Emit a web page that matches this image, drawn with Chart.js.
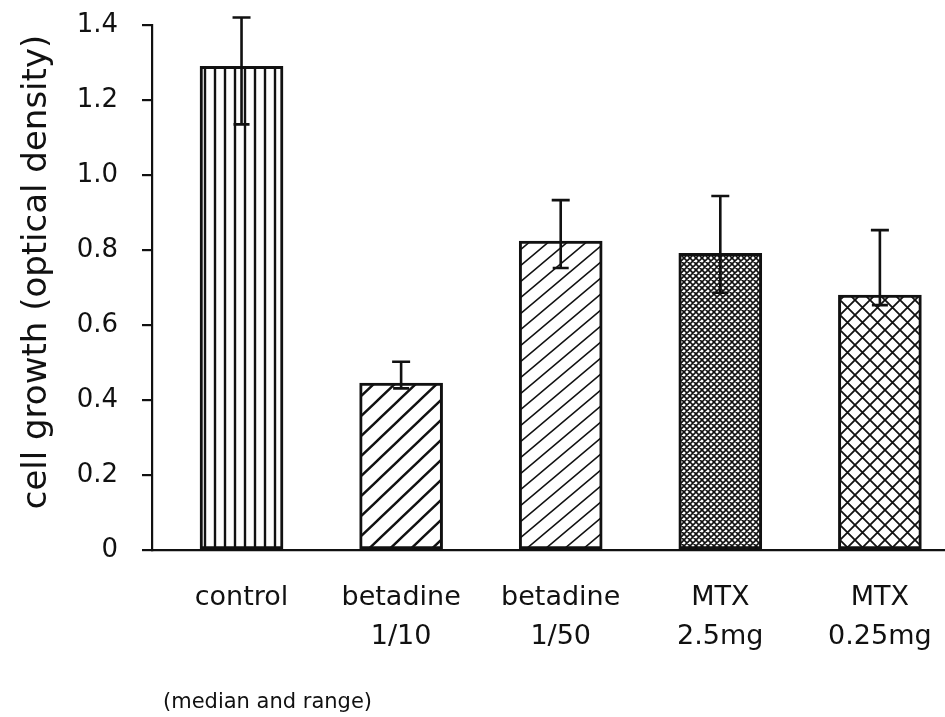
<!DOCTYPE html>
<html>
<head>
<meta charset="utf-8">
<title>cell growth</title>
<script src="https://cdn.jsdelivr.net/npm/chart.js"></script>
<style>
  body { margin: 0; background: #fff; }
  #wrap { width: 945px; height: 717px; position: relative; }
</style>
</head>
<body>
<div id="wrap"><canvas id="bars"></canvas></div>
<script>
// groups on the x axis (one array per label line)
const groups = [
  ['control'],
  ['betadine', '1/10'],
  ['betadine', '1/50'],
  ['MTX', '2.5mg'],
  ['MTX', '0.25mg']
];
// median optical density and the range around it
const medians = [1.29, 0.445, 0.824, 0.791, 0.68];
const rangeLow = [1.135, 0.431, 0.752, 0.686, 0.653];
const rangeHigh = [1.42, 0.502, 0.933, 0.944, 0.853];

const yTitle = 'cell growth (optical density)';
const footnote = '(median and range)';

const ink = '#111';
const family = "'DejaVu Sans', sans-serif";

// hatch fills, one per group
const makeTile = (w, h, draw) => {
  const c = document.createElement('canvas');
  c.width = w;
  c.height = h;
  const ctx = c.getContext('2d');
  ctx.fillStyle = '#fff';
  ctx.fillRect(0, 0, w, h);
  ctx.strokeStyle = ink;
  draw(ctx, w, h);
  return ctx.createPattern(c, 'repeat');
};

const vertical = (w, lw) => makeTile(w, w, (ctx, tw, th) => {
  ctx.lineWidth = lw;
  ctx.beginPath();
  ctx.moveTo(tw / 2, 0);
  ctx.lineTo(tw / 2, th);
  ctx.stroke();
});

const slanted = (w, h, lw) => makeTile(w, h, (ctx, tw, th) => {
  ctx.lineWidth = lw;
  ctx.beginPath();
  for (let n = -1; n <= 1; n++) {
    ctx.moveTo(-tw, 2 * th + n * th);
    ctx.lineTo(2 * tw, -th + n * th);
  }
  ctx.stroke();
});

const crossed = (s, lw) => makeTile(s, s, (ctx, tw, th) => {
  ctx.lineWidth = lw;
  ctx.beginPath();
  for (let n = -1; n <= 1; n++) {
    ctx.moveTo(n * tw - tw, -th);
    ctx.lineTo(n * tw + 2 * tw, 2 * th);
    ctx.moveTo(n * tw - tw, 2 * th);
    ctx.lineTo(n * tw + 2 * tw, -th);
  }
  ctx.stroke();
});

const fills = [
  vertical(10, 2.4),
  slanted(21, 20, 2.4),
  slanted(19, 16, 1.6),
  crossed(6, 1.6),
  crossed(15, 1.8)
];

// whiskers: line from low to high with a cap at each end
const rangeBars = {
  id: 'rangeBars',
  afterDatasetsDraw: (chart) => {
    const { ctx, scales: { y } } = chart;
    const meta = chart.getDatasetMeta(0);
    ctx.save();
    ctx.strokeStyle = ink;
    ctx.lineWidth = 2.6;
    meta.data.forEach((bar, i) => {
      const top = y.getPixelForValue(rangeHigh[i]);
      const low = y.getPixelForValue(rangeLow[i]);
      ctx.beginPath();
      ctx.moveTo(bar.x, top);
      ctx.lineTo(bar.x, low);
      ctx.moveTo(bar.x - 9, top);
      ctx.lineTo(bar.x + 9, top);
      ctx.moveTo(bar.x - 8, low);
      ctx.lineTo(bar.x + 8, low);
      ctx.stroke();
    });
    ctx.restore();
  }
};

// axis title and the note under the chart
const notes = {
  id: 'notes',
  afterDraw: (chart) => {
    const { ctx, chartArea } = chart;
    ctx.save();
    ctx.fillStyle = ink;
    ctx.textBaseline = 'middle';
    ctx.font = `34px ${family}`;
    ctx.translate(37, chartArea.top + 247);
    ctx.rotate(-Math.PI / 2);
    ctx.textAlign = 'center';
    ctx.fillText(yTitle, 0, 0);
    ctx.restore();

    ctx.save();
    ctx.fillStyle = ink;
    ctx.textBaseline = 'middle';
    ctx.textAlign = 'left';
    ctx.font = `21px ${family}`;
    ctx.fillText(footnote, 163, 703);
    ctx.restore();
  }
};

new Chart(document.getElementById('bars'), {
  type: 'bar',
  data: {
    datasets: [
      {
        data: medians.map((v, i) => ({ x: i, y: v })),
        backgroundColor: fills,
        borderColor: ink,
        borderWidth: 3,
        borderSkipped: false,
        barThickness: 83
      }
    ]
  },
  options: {
    responsive: true,
    maintainAspectRatio: false,
    animation: false,
    events: [],
    layout: { padding: { top: 25, right: 0, bottom: 0, left: 0 } },
    plugins: {
      legend: { display: false },
      tooltip: { enabled: false }
    },
    scales: {
      x: {
        type: 'linear',
        offset: false,
        min: -0.561,
        max: 4.408,
        afterBuildTicks: (scale) => {
          scale.ticks = groups.map((g, i) => ({ value: i }));
        },
        afterFit: (scale) => {
          scale.height = 167;
          scale.paddingLeft = 0;
          scale.paddingRight = 0;
        },
        grid: { display: false, drawTicks: false, offset: false },
        border: { display: true, color: ink, width: 2.2 },
        ticks: {
          autoSkip: false,
          maxRotation: 0,
          padding: 28,
          color: ink,
          font: { family, size: 27, lineHeight: 1.45 },
          callback: (value) => groups[value]
        }
      },
      y: {
        min: 0,
        max: 1.4,
        afterFit: (scale) => {
          scale.width = 152;
          scale.paddingTop = 0;
          scale.paddingBottom = 0;
        },
        grid: { drawOnChartArea: false, color: ink, lineWidth: 2.2, tickLength: 10 },
        border: { display: true, color: ink, width: 2.2 },
        ticks: {
          stepSize: 0.2,
          padding: 24,
          color: ink,
          font: { family, size: 26 },
          callback: (value) => value === 0 ? '0' : value.toFixed(1)
        }
      }
    }
  },
  plugins: [rangeBars, notes]
});
</script>
</body>
</html>
